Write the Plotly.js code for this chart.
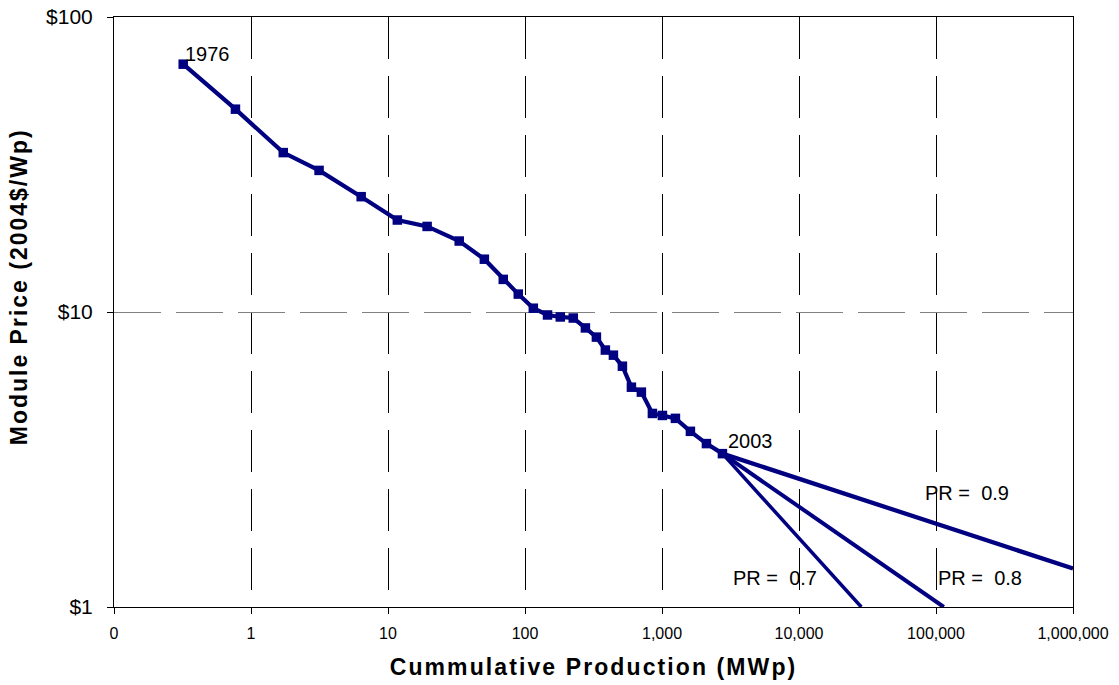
<!DOCTYPE html>
<html>
<head>
<meta charset="utf-8">
<script src="https://cdn.plot.ly/plotly-3.0.1.min.js"></script>
<style>html,body{margin:0;padding:0;background:#fff;}#chart{width:1119px;height:685px;}</style>
</head>
<body>
<div id="chart"></div>
<script>
// Data
const years = [1976,1977,1978,1979,1980,1981,1982,1983,1984,1985,1986,1987,1988,1989,1990,1991,1992,1993,1994,1995,1996,1997,1998,1999,2000,2001,2002,2003];
const cumulativeMWp = [0.32,0.77,1.72,3.14,6.37,11.7,19.3,33.1,50.5,69.4,89.3,115,146,181,225,276,332,386,442,514,598,707,851,1007,1253,1612,2110,2761];
const modulePrice = [69.2,48.7,34.7,30.2,24.6,20.5,19.5,17.4,15.1,12.9,11.5,10.3,9.77,9.62,9.54,8.83,8.22,7.43,7.14,6.55,5.56,5.35,4.53,4.46,4.36,3.94,3.58,3.31];

const pr09X = [2761, 1000000], pr09Y = [3.31, 1.35];
const pr08X = [2761, 114000],  pr08Y = [3.31, 1.0];
const pr07X = [2761, 28500],   pr07Y = [3.31, 1.0];

const xTickVals = [0.1,1,10,100,1000,10000,100000,1000000];
const xTickText = ['0','1','10','100','1,000','10,000','100,000','1,000,000'];
const yTickVals = [1,10,100];
const yTickText = ['$1','$10','$100'];

const xTitle = 'Cummulative Production (MWp)';
const yTitle = 'Module Price (2004$/Wp)';

const NAVY = '#000080';
const FONT = 'Liberation Sans, Arial, sans-serif';

const traces = [
  {x: pr09X, y: pr09Y, mode: 'lines', line: {color: NAVY, width: 4.3}, hoverinfo: 'skip'},
  {x: pr08X, y: pr08Y, mode: 'lines', line: {color: NAVY, width: 4}, hoverinfo: 'skip'},
  {x: pr07X, y: pr07Y, mode: 'lines', line: {color: NAVY, width: 3.5}, hoverinfo: 'skip'},
  {x: cumulativeMWp, y: modulePrice, text: years, mode: 'lines+markers',
   line: {color: NAVY, width: 4.2}, marker: {symbol: 'square', size: 9.5, color: NAVY}}
];

const n = years.length - 1;
const layout = {
  width: 1119, height: 685,
  margin: {l: 114, r: 46, t: 17, b: 78},
  paper_bgcolor: '#fff', plot_bgcolor: '#fff',
  showlegend: false,
  font: {family: FONT, size: 16, color: '#000'},
  xaxis: {
    type: 'log', range: [-1, 6], tickvals: xTickVals, ticktext: xTickText,
    showline: true, mirror: true, linecolor: '#000', linewidth: 1,
    ticks: 'outside', ticklen: 6, tickcolor: '#000', ticklabelstandoff: 6,
    showgrid: true, gridcolor: '#000', gridwidth: 1, griddash: '42px,17px',
    zeroline: false, tickfont: {size: 16},
    title: {text: '<b><span style="letter-spacing:2.1px">' + xTitle + '</span></b>', font: {size: 23}, standoff: 17}
  },
  yaxis: {
    type: 'log', range: [0, 2], tickvals: yTickVals, ticktext: yTickText,
    showline: true, mirror: true, linecolor: '#000', linewidth: 1,
    ticks: 'outside', ticklen: 6, tickcolor: '#000', ticklabelstandoff: 10,
    showgrid: true, gridcolor: '#808080', gridwidth: 1, griddash: '47px,15px',
    zeroline: false, tickfont: {size: 21}
  },
  annotations: [
    {x: -0.099, y: 0.542, xref: 'paper', yref: 'paper', xanchor: 'center', yanchor: 'middle',
     textangle: -90, showarrow: false,
     text: '<b><span style="letter-spacing:2px">' + yTitle + '</span></b>', font: {size: 23}},
    {x: Math.log10(cumulativeMWp[0]), y: Math.log10(modulePrice[0]), xref: 'x', yref: 'y',
     text: String(years[0]), showarrow: false, xanchor: 'left', yanchor: 'bottom', xshift: 0, yshift: -3,
     font: {size: 20}},
    {x: Math.log10(cumulativeMWp[n]), y: Math.log10(modulePrice[n]), xref: 'x', yref: 'y',
     text: String(years[n]), showarrow: false, xanchor: 'left', yanchor: 'bottom', xshift: 4, yshift: 0,
     font: {size: 20}},
    {x: 0.689, y: 0.050, xref: 'paper', yref: 'paper', xanchor: 'center', yanchor: 'middle', text: 'PR = \u00a00.7', showarrow: false, font: {size: 20}},
    {x: 0.903, y: 0.050, xref: 'paper', yref: 'paper', xanchor: 'center', yanchor: 'middle', text: 'PR = \u00a00.8', showarrow: false, font: {size: 20}},
    {x: 0.889, y: 0.193, xref: 'paper', yref: 'paper', xanchor: 'center', yanchor: 'middle', text: 'PR = \u00a00.9', showarrow: false, font: {size: 20}}
  ]
};

Plotly.newPlot('chart', traces, layout, {displayModeBar: false, staticPlot: true});
</script>
</body>
</html>
